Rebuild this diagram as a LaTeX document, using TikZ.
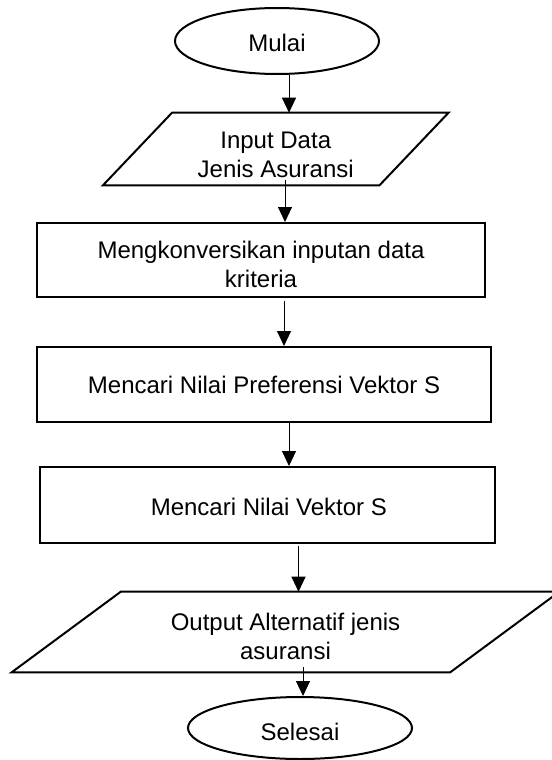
\documentclass[tikz,border=0pt]{standalone}
\usepackage{fontspec}
\setmainfont{Liberation Sans}
\usetikzlibrary{shapes.geometric,arrows.meta,calc}
\begin{document}
\begin{tikzpicture}[x=0.75pt,y=-0.75pt,
  txt/.style={font=\fontsize{18}{21.75}\selectfont, align=center, inner sep=0pt},
  term/.style={ellipse, draw, line width=1.5pt, inner sep=0pt, txt},
  proc/.style={rectangle, draw, line width=1.5pt, inner sep=0pt, txt},
  iobox/.style={rectangle, inner sep=0pt, txt},
  para/.style={line width=1.5pt, line join=miter},
  arr/.style={line width=0.75pt, -{Triangle[length=11.25pt,width=10.5pt]}}]
\useasboundingbox (0,0) rectangle (551,760);
% start
\node[term, minimum width=153pt, minimum height=49.5pt,
  label={[txt,yshift=-1.5pt]center:Mulai}] (mulai) at (277,41) {};
% input
\node[iobox, minimum width=207pt, minimum height=54pt,
  label={[txt,yshift=-4.5pt]center:{Input Data\\Jenis Asuransi}}] (input) at (275.75,149) {};
\draw[para] ([xshift=25.875pt]input.north west) -- ([xshift=25.875pt]input.north east)
  -- ([xshift=-25.875pt]input.south east) -- ([xshift=-25.875pt]input.south west) -- cycle;
% processes
\node[proc, minimum width=336pt, minimum height=55.5pt,
  label={[txt,yshift=-3pt]center:{Mengkonversikan inputan data\\kriteria}}] (konv) at (261,260) {};
\node[proc, minimum width=340.5pt, minimum height=56.25pt] (pref) at (264,384.5) {Mencari Nilai Preferensi Vektor S};
\node[proc, minimum width=341.25pt, minimum height=57pt,
  label={[txt,yshift=-1.5pt,xshift=1pt]center:Mencari Nilai Vektor S}] (vek) at (267.5,505) {};
% output
\node[iobox, minimum width=328.5pt, minimum height=60pt,
  label={[txt,yshift=-3pt]center:{Output Alternatif jenis\\asuransi}}] (out) at (285.5,632) {};
\draw[para] ([xshift=40.875pt]out.north west) -- ([xshift=40.875pt]out.north east)
  -- ([xshift=-40.875pt]out.south east) -- ([xshift=-40.875pt]out.south west) -- cycle;
% end
\node[term, minimum width=168pt, minimum height=46.5pt,
  label={[txt,yshift=-3pt]center:Selesai}] (selesai) at (300,728) {};
% connector columns
\coordinate (c1) at (289,0);
\coordinate (c2) at (285,0);
\coordinate (c3) at (284,0);
\coordinate (c4) at (289,0);
\coordinate (c5) at (298.5,0);
\coordinate (c6) at (303,0);
\draw[arr] (c1 |- mulai.south) -- (c1 |- input.north);
\draw[arr] ($(c2 |- input.south)+(0,-5)$) -- (c2 |- konv.north);
\draw[arr] ($(c3 |- konv.south)+(0,3)$) -- (c3 |- pref.north);
\draw[arr] (c4 |- pref.south) -- (c4 |- vek.north);
\draw[arr] ($(c5 |- vek.south)+(0,2)$) -- (c5 |- out.north);
\draw[arr] ($(c6 |- out.south)+(0,-5)$) -- (c6 |- selesai.north);
\end{tikzpicture}
\end{document}
